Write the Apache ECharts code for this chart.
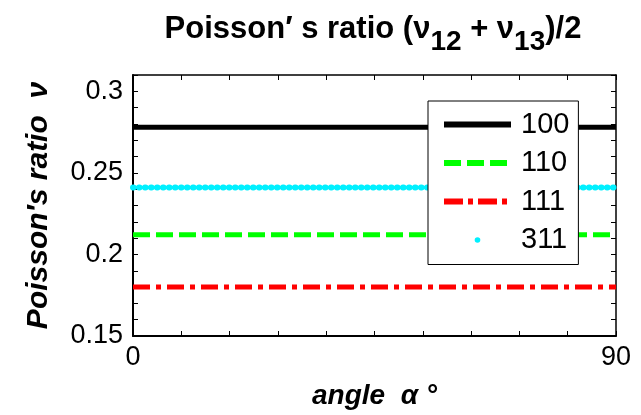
<!DOCTYPE html>
<html>
<head>
<meta charset="utf-8">
<script src="https://cdn.jsdelivr.net/npm/echarts@6/dist/echarts.min.js"></script>
<style>
  html, body { margin: 0; padding: 0; background: #fff; }
  #chart { width: 641px; height: 415px; }
</style>
</head>
<body>
<div id="chart"></div>
<script>
// x range (angle, degrees) and the constant Poisson ratio of each orientation
var angles = [0, 90];
var seriesNames = ['100', '110', '111', '311'];
var ratio100 = [0.278, 0.278];
var ratio110 = [0.212, 0.212];
var ratio111 = [0.180, 0.180];
var ratio311 = [0.241, 0.241];
var yTickLabels = [0.15, 0.2, 0.25, 0.3];
var xTickLabels = [0, 90];

var font = 'Liberation Sans, Arial, sans-serif';
var cyan = '#00f0ff';

function pairs(ys) {
    return angles.map(function (a, i) { return [a, ys[i]]; });
}

var chart = echarts.init(document.getElementById('chart'));

var tickStyle = { show: true, inside: true, length: 5, lineStyle: { color: '#000', width: 1 } };

var option = {
    animation: false,
    backgroundColor: '#fff',
    title: {
        text: '{a|Poisson\u2032 s ratio (\u03bd}{s|12}{a| + \u03bd}{s|13}{a|)/2}',
        left: 368,
        textAlign: 'center',
        top: -3,
        textStyle: {
            rich: {
                a: { fontFamily: font, fontSize: 31, fontWeight: 'bold', color: '#000' },
                s: { fontFamily: font, fontSize: 28, fontWeight: 'bold', color: '#000', padding: [26, 0, 0, 0] }
            }
        }
    },
    legend: {
        z: 10,
        orient: 'vertical',
        left: 428,
        top: 101,
        padding: [8, 9, 9, 13],
        itemWidth: 67,
        itemHeight: 7,
        itemGap: 7.5,
        backgroundColor: '#fff',
        borderColor: '#000',
        borderWidth: 1,
        borderRadius: 0,
        textStyle: { fontFamily: font, fontSize: 29, color: '#000', lineHeight: 31, padding: [0, 0, 0, 5] },
        data: [
            { name: '100', itemStyle: { opacity: 0 }, lineStyle: { color: '#000', width: 6 } },
            { name: '110', itemStyle: { opacity: 0 }, lineStyle: { color: '#00ff00', width: 6, type: [17, 6] } },
            { name: '111', itemStyle: { opacity: 0 }, lineStyle: { color: '#ff0000', width: 6, type: [19, 5, 5, 5] } },
            { name: '311', itemStyle: { color: cyan }, lineStyle: { opacity: 0 } }
        ]
    },
    grid: { left: 133, right: 25, top: 75, bottom: 73 },
    xAxis: [{
        type: 'value',
        min: 0, max: 90, interval: 9,
        position: 'bottom',
        name: 'angle  \u03b1 \u00b0',
        nameLocation: 'middle',
        nameGap: 46,
        nameTextStyle: { fontFamily: font, fontSize: 28, fontWeight: 'bold', fontStyle: 'italic', color: '#000' },
        axisLine: { show: true, onZero: false, lineStyle: { color: '#000', width: 2 } },
        axisTick: tickStyle,
        splitLine: { show: false },
        axisLabel: {
            fontFamily: font, fontSize: 27, color: '#000', margin: 8,
            formatter: function (v) { return xTickLabels.indexOf(v) >= 0 ? String(v) : ''; }
        }
    }, {
        type: 'value',
        min: 0, max: 90, interval: 9,
        position: 'top',
        axisLine: { show: true, onZero: false, lineStyle: { color: '#000', width: 1.5 } },
        axisTick: tickStyle,
        splitLine: { show: false },
        axisLabel: { show: false }
    }],
    yAxis: [{
        type: 'value',
        min: 0.15, max: 0.31, interval: 0.01,
        position: 'left',
        name: 'Poisson\u2032s ratio  \u03bd',
        nameLocation: 'middle',
        nameGap: 79,
        nameTextStyle: { fontFamily: font, fontSize: 30, fontWeight: 'bold', fontStyle: 'italic', color: '#000' },
        axisLine: { show: true, onZero: false, lineStyle: { color: '#000', width: 2 } },
        axisTick: tickStyle,
        splitLine: { show: false },
        axisLabel: {
            fontFamily: font, fontSize: 27, color: '#000', margin: 10,
            formatter: function (v) {
                var r = Math.round(v * 100) / 100;
                return yTickLabels.indexOf(r) >= 0 ? String(r) : '';
            }
        }
    }, {
        type: 'value',
        min: 0.15, max: 0.31, interval: 0.01,
        position: 'right',
        axisLine: { show: true, onZero: false, lineStyle: { color: '#000', width: 1.5 } },
        axisTick: tickStyle,
        splitLine: { show: false },
        axisLabel: { show: false }
    }],
    series: [{
        name: seriesNames[0],
        type: 'line',
        data: pairs(ratio100),
        symbol: 'none',
        color: '#000',
        lineStyle: { color: '#000', width: 5 },
        z: 3
    }, {
        name: seriesNames[1],
        type: 'line',
        data: pairs(ratio110),
        symbol: 'none',
        color: '#00ff00',
        lineStyle: { color: '#00ff00', width: 5, type: [17, 6] },
        z: 3
    }, {
        name: seriesNames[2],
        type: 'line',
        data: pairs(ratio111),
        symbol: 'none',
        color: '#ff0000',
        lineStyle: { color: '#ff0000', width: 5, type: [17, 6, 5, 6] },
        z: 3
    }, {
        name: seriesNames[3],
        type: 'line',
        data: pairs(ratio311),
        symbol: 'circle',
        showSymbol: false,
        symbolSize: 6,
        color: cyan,
        itemStyle: { color: cyan },
        lineStyle: { color: cyan, width: 6, type: [0.5, 5.5], cap: 'round' },
        z: 3
    }]
};

chart.setOption(option);
</script>
</body>
</html>
